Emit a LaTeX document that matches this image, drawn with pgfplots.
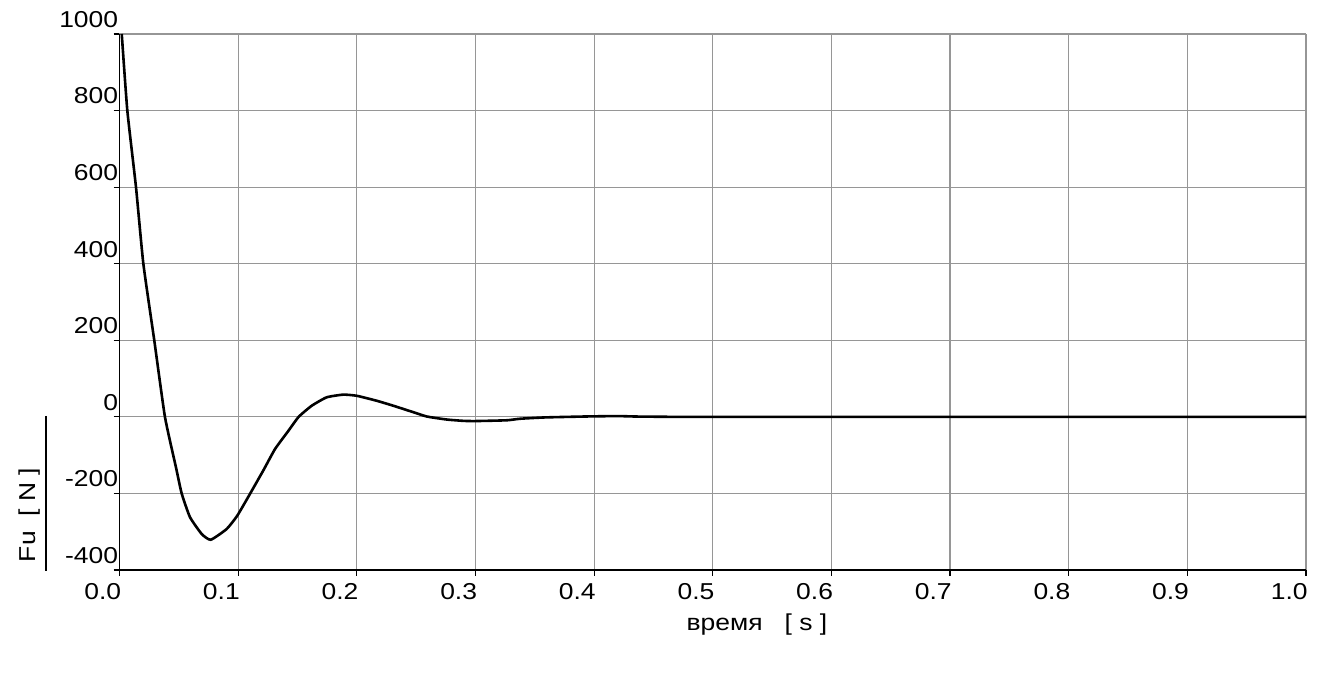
\documentclass[border=0pt]{standalone}
\usepackage{pgfplots}
\pgfplotsset{compat=1.18}
\usepackage{fontspec}
\setmainfont{Liberation Sans}[FakeStretch=1.15]
\definecolor{gridgray}{RGB}{150,150,150}
\begin{document}
\begin{tikzpicture}
\path (0,0) rectangle (670pt,339pt);
\begin{axis}[
  at={(59.75pt,54pt)}, anchor=south west,
  scale only axis, width=593.25pt, height=268pt,
  xmin=0, xmax=1, ymin=-400, ymax=1000,
  axis x line*=bottom, axis y line*=left,
  axis line style={black, line width=0.8pt, -},
  xtick={0,0.1,...,1.0}, ytick={-400,-200,0,200,400,600,800,1000},
  xticklabels={0.0,0.1,0.2,0.3,0.4,0.5,0.6,0.7,0.8,0.9,1.0},
  yticklabels={-400,-200,0,200,400,600,800,1000},
  tick align=outside, major tick length=3pt,
  tick style={black, line width=0.6pt},
  grid=major, major grid style={gridgray, line width=0.6pt},
  ticklabel style={font=\fontsize{11.5pt}{13pt}\selectfont, inner sep=0pt},
  xticklabel style={anchor=north east, xshift=1pt, yshift=-3.5pt},
  yticklabel style={anchor=south east, xshift=2.5pt, yshift=3pt},
]
\addplot[black, line width=1.3pt, smooth, tension=0.3] coordinates {
(0.0019,1000) (0.0066,800) (0.0139,600) (0.0201,400) (0.0293,200)
(0.0383,0) (0.0476,-132) (0.0524,-200) (0.0594,-262) (0.0693,-306)
(0.0769,-321) (0.0903,-293) (0.0993,-258) (0.110,-201) (0.1212,-140)
(0.1311,-84) (0.1420,-38) (0.1510,0) (0.162,29) (0.1746,51)
(0.1886,58) (0.200,55) (0.2168,42) (0.2308,29) (0.2448,15)
(0.2589,1) (0.2758,-7) (0.2900,-10.5) (0.3000,-11) (0.3263,-9)
(0.3375,-5) (0.3586,-1.5) (0.394,1) (0.42,2) (0.436,0.8)
(0.47,0) (0.55,0) (0.7,0) (0.85,0) (1.0,0)
};
\end{axis}
\node[font=\fontsize{11.5pt}{13pt}\selectfont, inner sep=0pt] at (378.5pt,26.5pt) {время\ \ \ [ s ]};
\node[font=\fontsize{11.5pt}{13pt}\selectfont, inner sep=0pt, rotate=90] at (15pt,81.5pt) {Fu\ \ [ N ]};
\draw[black, line width=0.8pt] (23pt,131pt) -- (23pt,53.5pt);
\end{tikzpicture}
\end{document}
